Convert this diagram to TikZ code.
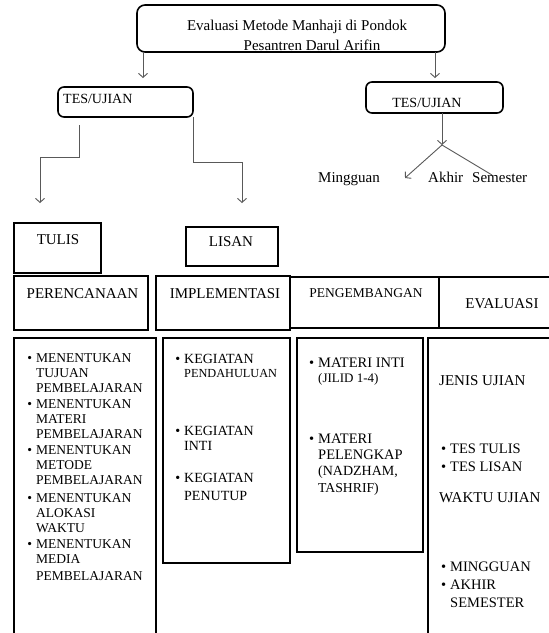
\documentclass[tikz,border=0pt]{standalone}
\usepackage{fontspec}
\setmainfont{Liberation Serif}
\usetikzlibrary{arrows.meta,positioning}
\newcommand{\poin}{\llap{\textbullet\hspace{4pt}}}

\begin{document}
\begin{tikzpicture}[x=1pt,y=-1pt,>={Straight Barb[length=4pt,width=9pt]}]
	\tikzstyle{kotak}=[draw=black,line width=1.6pt,anchor=north west,inner sep=0pt,outer sep=0pt]
	\tikzstyle{bulat}=[kotak,rounded corners=6pt]
	\tikzstyle{judul}=[font=\fontsize{15}{16}\selectfont,anchor=base,inner sep=0pt]
	\tikzstyle{isi}=[font=\fontsize{13.5}{15.3}\selectfont,align=left,anchor=base west,inner sep=0pt]
	\tikzstyle{garis}=[draw=black!65,line width=0.9pt]

	\useasboundingbox (0,0) rectangle (549,633);
	\clip (0,0) rectangle (549,633);

	% judul
	\node[bulat,rounded corners=8pt,minimum width=308pt,minimum height=47pt] (utama) at (137,5) {};
	\node[judul] (utama1) at (297,30.5) {Evaluasi Metode Manhaji di Pondok};
	\node[judul] (utama2) at (312,50.5) {Pesantren Darul Arifin};

	% tes/ujian
	\node[bulat,minimum width=135pt,minimum height=30pt] (tes1) at (58,87) {};
	\node[judul,font=\fontsize{14}{16}\selectfont,anchor=base west] (tes1t) at (63,103.5) {TES/UJIAN};
	\node[bulat,minimum width=137pt,minimum height=31pt] (tes2) at (366,82) {};
	\node[judul,font=\fontsize{14}{16}\selectfont] (tes2t) at (427,107) {TES/UJIAN};
	\node[judul,anchor=base west] (minggu) at (318,182) {Mingguan};
	\node[judul,anchor=base west] (akhir) at (428,182) {Akhir\hspace{9pt}Semester};

	% tulis / lisan
	\node[kotak,minimum width=87pt,minimum height=50pt] (tulis) at (14,223) {};
	\node[judul] (tulist) at (58,244) {TULIS};
	\node[kotak,minimum width=92pt,minimum height=39pt] (lisan) at (186,227) {};
	\node[judul] (lisant) at (231,246) {LISAN};

	% kepala kolom
	\node[kotak,minimum width=134pt,minimum height=54pt] (rencana) at (14,276) {};
	\node[judul] (rencanat) at (82.5,298) {PERENCANAAN};
	\node[kotak,minimum width=134pt,minimum height=54pt] (implementasi) at (156,276) {};
	\node[judul] (implementasit) at (225,298) {IMPLEMENTASI};
	\node[kotak,minimum width=149pt,minimum height=51pt] (kembang) at (290,277) {};
	\node[judul,font=\fontsize{13.5}{16}\selectfont] (kembangt) at (366,297) {PENGEMBANGAN};
	\node[kotak,minimum width=130pt,minimum height=51pt] (evaluasi) at (439,277) {};
	\node[judul] (evaluasit) at (502,308) {EVALUASI};

	% isi kolom (titik base = baris terakhir)
	\node[kotak,minimum width=142pt,minimum height=320pt] (isi1) at (14,338) {};
	\node[kotak,minimum width=127pt,minimum height=225pt] (isi2) at (163,338) {};
	\node[kotak,minimum width=126pt,minimum height=214pt] (isi3) at (297,338) {};
	\node[kotak,minimum width=140pt,minimum height=320pt] (isi4) at (428,338) {};

	\node[isi] (r1) at (36,392.6) {\poin MENENTUKAN\\TUJUAN\\PEMBELAJARAN};
	\node[isi] (r2) at (36,438.6) {\poin MENENTUKAN\\MATERI\\PEMBELAJARAN};
	\node[isi] (r3) at (36,484.6) {\poin MENENTUKAN\\METODE\\PEMBELAJARAN};
	\node[isi] (r4) at (36,532.6) {\poin MENENTUKAN\\ALOKASI\\WAKTU};
	\node[isi] (r5) at (36,580.6) {\poin MENENTUKAN\\MEDIA\\[2pt]PEMBELAJARAN};

	\node[isi,font=\fontsize{14}{14.5}\selectfont] (i1) at (184,377.5) {\poin KEGIATAN\\{\fontsize{12.3}{14.5}\selectfont PENDAHULUAN}};
	\node[isi,font=\fontsize{14}{15}\selectfont] (i2) at (184,450) {\poin KEGIATAN\\INTI};
	\node[isi,font=\fontsize{14}{18}\selectfont] (i3) at (184,500) {\poin KEGIATAN\\PENUTUP};

	\node[isi,font=\fontsize{14.5}{15}\selectfont] (m1) at (318,382) {\poin MATERI INTI\\{\fontsize{13}{15}\selectfont (JILID 1-4)}};
	\node[isi,font=\fontsize{14.5}{16.3}\selectfont] (m2) at (318,492) {\poin MATERI\\PELENGKAP\\{\fontsize{14}{16.3}\selectfont (NADZHAM,}\\{\fontsize{13.7}{16.3}\selectfont TASHRIF)}};

	\node[isi,font=\fontsize{15}{18}\selectfont] (jenis) at (439,385) {JENIS UJIAN};
	\node[isi,font=\fontsize{14.5}{18}\selectfont] (e1) at (450,471) {\poin TES TULIS\\\poin TES LISAN};
	\node[isi,font=\fontsize{15}{18}\selectfont] (waktu) at (439,502) {WAKTU UJIAN};
	\node[isi,font=\fontsize{14.5}{18}\selectfont] (e2) at (450,607) {\poin MINGGUAN\\\poin AKHIR\\SEMESTER};

	% panah
	\coordinate (ujung1) at (143,78);
	\coordinate (ujung2) at (435,78);
	\draw[garis,->] (utama.south -| ujung1) -- (ujung1);
	\draw[garis,->] (utama.south -| ujung2) -- (ujung2);

	\coordinate (pangkal1) at (79,125);
	\coordinate (tulisujung) at (40,203);
	\coordinate (lisanujung) at (242,203);
	\draw[garis,->] (pangkal1) -- ++(0,32) -| (tulisujung);
	\draw[garis,->] (tes1.south east) -- ++(0,45) -| (lisanujung);

	\coordinate (cabang) at (442,145);
	\coordinate (kiri) at (405,178);
	\coordinate (kanan) at (492,175);
	\draw[garis,->] (tes2.south -| cabang) -- (cabang);
	\draw[garis,->] (cabang) -- (kiri);
	\draw[garis] (cabang) -- (kanan);
\end{tikzpicture}
\end{document}
